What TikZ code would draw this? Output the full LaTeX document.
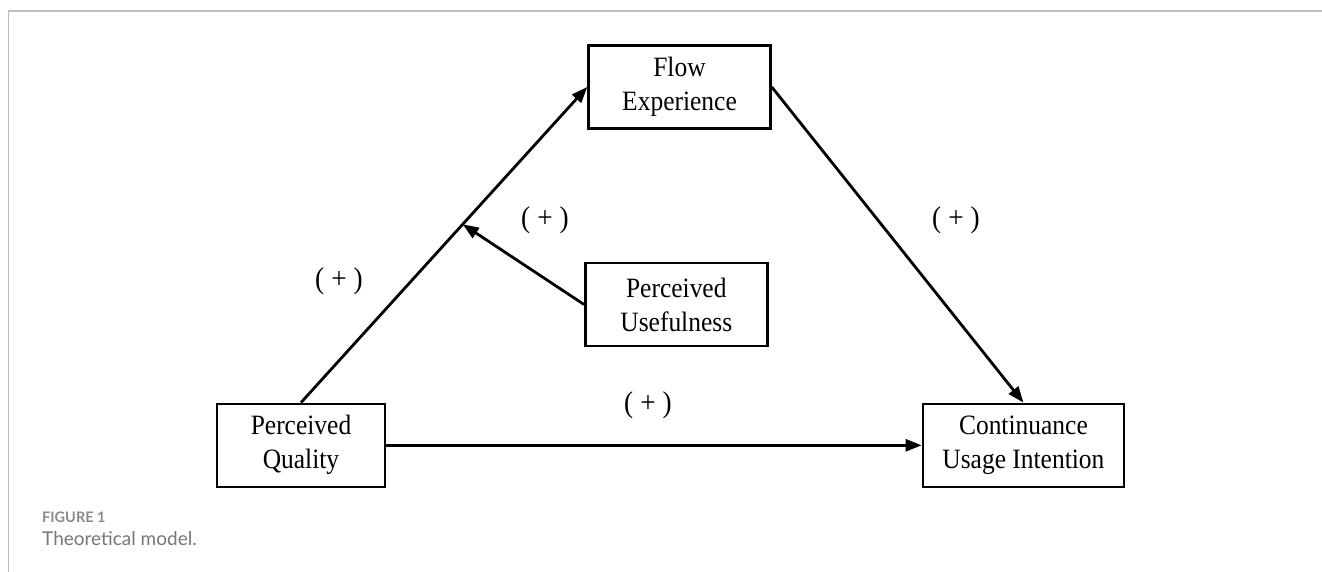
\documentclass[tikz,border=0pt]{standalone}
\usepackage{fontspec}
\setmainfont{Liberation Serif}[FakeStretch=0.91]
\newfontfamily\capfont{Lato}
\usetikzlibrary{arrows.meta,calc}
\definecolor{framegray}{HTML}{BDBDBD}
\definecolor{capgray}{HTML}{8A8A8A}
\definecolor{captext}{HTML}{777777}
\tikzset{
  box/.style={draw, line width=2.5pt, minimum height=83pt, inner sep=0pt, align=center,
    font=\fontsize{28}{34}\selectfont},
  conn/.style={line width=2.8pt},
  arr/.style={conn, -{Triangle[length=16pt,width=12pt]}},
  plus/.style={font=\fontsize{30}{32}\selectfont, inner sep=0pt}
}
\newcommand{\pluslbl}{(\hspace{7pt}+\hspace{7pt})}
\begin{document}
\begin{tikzpicture}[x=1pt,y=-1pt]
\useasboundingbox (0,0) rectangle (1322,572);
% frame
\draw[framegray, line width=1.6pt] (8.5,572) -- (8.5,11) -- (1322,11);
% boxes
\node[box, minimum width=182pt] (FE) at (679.5,87) {Flow\\Experience};
\node[box, minimum width=182pt] (PU) at (676.3,304.5) {Perceived\\Usefulness};
\node[box, minimum width=168pt] (PQ) at (301,445.3) {Perceived\\Quality};
\node[box, minimum width=201pt] (CUI) at (1023.4,445.3) {Continuance\\Usage Intention};
% connectors
\draw[arr] (PQ.north) -- (FE.west);
\coordinate (J) at ($(PQ.north)!0.565!(FE.west)$);
\draw[arr] (PU.west) -- (J);
\draw[arr] (FE.east) -- (CUI.north);
\draw[arr] (PQ.east) -- (CUI.west);
% labels
\node[plus] (L1) at (339,281) {\pluslbl};
\node[plus] (L2) at (545,220) {\pluslbl};
\node[plus] (L3) at (956,220) {\pluslbl};
\node[plus] (L4) at (648,405) {\pluslbl};
% caption
\node[anchor=base west, inner sep=0pt, text=capgray, font=\capfont\bfseries\fontsize{14.5}{16}\selectfont] (fig) at (42,522) {FIGURE 1};
\node[anchor=base west, inner sep=0pt, text=captext, font=\capfont\fontsize{19}{21}\selectfont] (cap) at (42,545) {Theoretical model.};
\end{tikzpicture}
\end{document}
